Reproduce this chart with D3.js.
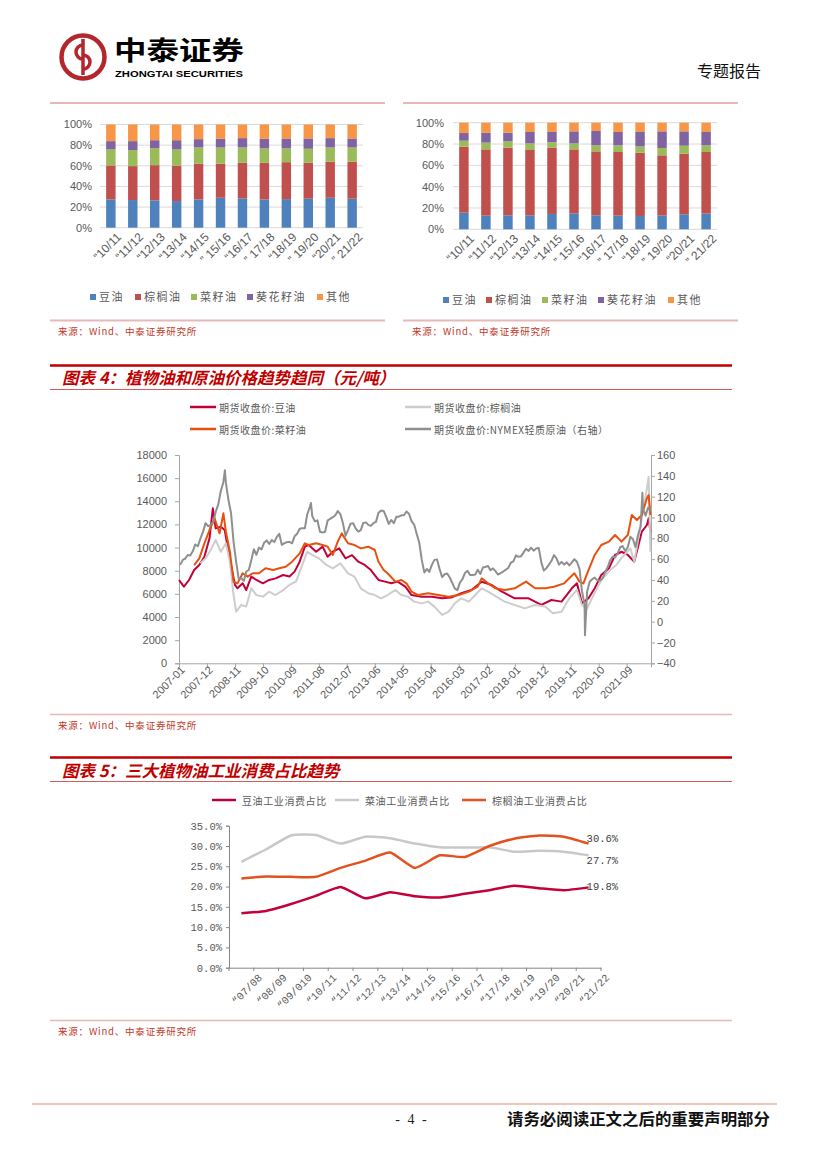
<!DOCTYPE html>
<html><head><meta charset="utf-8">
<script src="https://cdn.jsdelivr.net/npm/d3@7"></script>
<style>body{margin:0;background:#fff}svg{display:block}</style>
</head><body>
<svg id="page" width="827" height="1169"></svg>
<script>
// ---------------- DATA ----------------
const topCats = ["“10/11","“11/12","“12/13","“13/14","“14/15","” 15/16","“16/17","” 17/18","“18/19","” 19/20","“20/21","” 21/22"];
const oilKinds = ["豆油","棕榈油","菜籽油","葵花籽油","其他"];
const pctTicks = [0,20,40,60,80,100];
// left stacked chart (share %, bottom to top)
const leftSoy   = [27.4,26.8,26.5,25.8,27.4,29.0,28.4,27.4,27.7,28.1,29.0,28.1];
const leftPalm  = [32.9,32.9,34.1,34.2,34.5,32.9,34.5,35.5,35.8,34.8,34.9,35.8];
const leftRape  = [15.5,15.5,16.5,15.8,15.8,15.8,14.8,13.9,13.3,13.6,13.8,13.8];
const leftSun   = [8.1,8.7,7.7,9.0,8.1,8.4,9.1,9.3,9.7,10.0,9.1,8.8];
const leftOther = [16.1,16.1,15.2,15.2,14.2,13.9,13.2,13.9,13.5,13.5,13.2,13.5];
// right stacked chart
const rightSoy   = [15.6,12.8,13.1,13.1,14.4,15.0,13.1,12.8,12.5,13.1,14.1,14.7];
const rightPalm  = [61.9,62.2,63.5,61.3,62.2,60.0,60.0,59.7,59.4,56.3,56.8,57.8];
const rightRape  = [5.6,6.3,5.9,6.2,5.0,5.6,5.7,6.3,5.9,6.9,7.5,6.3];
const rightSun   = [7.2,9.3,8.1,10.7,9.7,11.3,13.4,12.5,13.5,15.6,13.5,12.5];
const rightOther = [9.7,9.4,9.4,8.7,8.7,8.1,7.8,8.7,8.7,8.1,8.1,8.7];

// chart 4: futures prices (yuan/ton) and NYMEX crude (USD, right axis)
const soyFut = [["2007-01-01",7200],["2007-03-01",6620],["2007-05-01",7200],["2007-07-01",8060],["2007-09-01",8490],["2007-11-01",9210],["2008-01-01",10800],["2008-02-10",13390],["2008-03-15",11660],["2008-05-15",11800],["2008-07-01",11520],["2008-08-01",10220],["2008-09-15",8490],["2008-11-01",6770],["2008-12-01",6480],["2009-02-01",6910],["2009-03-15",6330],["2009-05-15",7490],["2009-07-15",7200],["2009-10-01",6910],["2009-12-15",7200],["2010-03-01",7340],["2010-06-01",7630],["2010-08-15",7500],["2010-10-15",7920],["2010-12-15",8780],["2011-02-15",10080],["2011-04-01",10220],["2011-07-01",9640],["2011-09-15",10080],["2011-11-15",9210],["2012-01-15",9640],["2012-04-01",9930],["2012-06-15",9070],["2012-09-01",9350],["2012-11-15",8780],["2013-02-01",8500],["2013-04-15",8060],["2013-07-15",7200],["2013-10-01",7060],["2013-12-15",6910],["2014-03-01",7060],["2014-06-01",6620],["2014-08-15",5900],["2014-12-15",5760],["2015-04-15",5760],["2015-08-15",5615],["2015-12-01",5680],["2016-04-01",6050],["2016-08-01",6330],["2016-12-01",7050],["2017-04-01",6770],["2017-07-15",6250],["2018-01-01",5615],["2018-06-15",5615],["2018-11-15",5040],["2019-03-15",5470],["2019-07-15",5330],["2019-11-15",6480],["2020-01-15",6910],["2020-03-15",5180],["2020-06-01",5615],["2020-08-15",6480],["2020-11-01",7630],["2021-02-01",8210],["2021-04-15",9360],["2021-07-01",9640],["2021-09-15",9360],["2021-12-01",8780],["2022-03-01",11370],["2022-05-01",11950],["2022-05-22",12530],["2022-06-12",11370]];
const palmFut = [["2007-09-15",8640],["2007-11-15",9070],["2008-01-15",9790],["2008-03-15",10650],["2008-05-15",9640],["2008-07-15",10370],["2008-09-01",8780],["2008-10-15",5900],["2008-11-15",4460],["2009-01-15",5040],["2009-03-15",4900],["2009-05-15",6480],["2009-07-15",5900],["2009-10-01",5760],["2009-12-15",6190],["2010-03-01",5900],["2010-06-01",6330],["2010-08-15",6770],["2010-11-01",7060],["2011-01-15",8500],["2011-03-15",9640],["2011-05-15",9360],["2011-08-01",9070],["2011-11-01",8500],["2012-01-15",8210],["2012-04-15",8640],["2012-07-15",7780],["2012-10-01",7490],["2012-12-15",6480],["2013-03-15",6050],["2013-06-01",5900],["2013-08-15",5615],["2013-11-01",5900],["2014-02-01",6330],["2014-04-15",5900],["2014-07-01",5760],["2014-09-15",5330],["2014-12-15",5180],["2015-03-01",5330],["2015-05-15",4900],["2015-08-15",4180],["2015-11-01",4460],["2016-01-15",5180],["2016-04-01",5615],["2016-07-01",5330],["2016-09-15",5900],["2016-12-01",6480],["2017-02-15",6190],["2017-05-15",5800],["2017-09-01",5330],["2018-01-01",5040],["2018-05-01",4750],["2018-09-01",5040],["2019-01-01",4900],["2019-04-01",4320],["2019-07-15",4460],["2019-10-15",5615],["2020-01-15",6330],["2020-03-15",5040],["2020-05-15",4750],["2020-08-01",5900],["2020-11-01",7200],["2021-02-15",8060],["2021-05-01",8500],["2021-07-15",9210],["2021-10-15",9930],["2021-12-01",8780],["2022-03-01",12530],["2022-05-01",15120],["2022-05-22",16130],["2022-06-12",9640]];
const rapeFut = [["2007-07-01",8490],["2007-09-01",9070],["2007-11-01",10370],["2008-01-01",11520],["2008-03-01",12530],["2008-05-01",11230],["2008-06-15",12960],["2008-07-15",11370],["2008-09-01",9640],["2008-10-15",7050],["2008-12-01",6910],["2009-02-01",7780],["2009-04-01",7490],["2009-06-01",7780],["2009-08-15",7780],["2009-11-01",8210],["2010-02-01",8060],["2010-04-15",8210],["2010-07-01",8350],["2010-09-15",8780],["2010-12-15",9500],["2011-02-15",10370],["2011-04-01",10220],["2011-07-01",10370],["2011-09-15",10220],["2011-11-15",10080],["2012-01-15",9360],["2012-03-15",10510],["2012-05-01",11230],["2012-07-15",10370],["2012-10-01",10220],["2012-12-15",9930],["2013-03-15",10080],["2013-06-01",9790],["2013-07-15",8780],["2013-09-15",8060],["2013-11-01",7780],["2014-02-01",7060],["2014-04-15",7200],["2014-06-15",6910],["2014-08-15",6190],["2014-11-01",5900],["2015-03-01",6050],["2015-07-01",5900],["2015-11-01",5760],["2016-03-01",5900],["2016-07-01",6190],["2016-10-15",6620],["2016-12-01",7340],["2017-02-15",6910],["2017-05-15",6480],["2017-09-01",6330],["2018-01-01",6480],["2018-05-15",7060],["2018-09-01",6480],["2019-01-01",6480],["2019-04-15",6620],["2019-08-15",6910],["2019-12-15",7780],["2020-02-15",7060],["2020-04-01",6910],["2020-06-01",8060],["2020-08-15",9360],["2020-11-01",10220],["2021-02-01",10510],["2021-04-15",11090],["2021-07-01",10510],["2021-09-15",11090],["2021-11-01",12810],["2022-01-01",12380],["2022-03-01",12810],["2022-05-01",14260],["2022-05-22",14540],["2022-06-12",12810]];
const oilStartMonth = "2007-01";
const oilMonthly = [
 54.5,59.3,60.4,63.9,63.5,67.5,74.1,72.4,79.9,86.2,94.6,91.7,
 93.0,95.4,105.5,112.6,125.4,133.9,133.4,116.7,104.1,76.6,57.3,41.1,
 41.7,39.1,47.9,49.6,59.0,69.6,64.2,71.1,69.4,75.7,78.0,74.5,
 78.3,76.4,81.2,84.3,73.7,75.3,76.3,76.6,75.2,81.9,84.3,89.2,
 89.6,89.6,102.9,110.0,101.3,96.3,97.3,86.3,85.5,86.3,97.2,98.6,
 100.3,102.2,106.2,103.3,94.7,82.3,87.9,94.1,94.5,89.5,86.5,87.9,
 94.8,95.3,92.9,92.0,94.5,95.8,104.6,106.6,106.3,100.5,93.9,97.6,
 94.6,100.8,100.8,102.1,102.2,105.8,103.6,96.5,93.2,84.4,75.8,59.3,
 47.2,50.6,47.8,54.5,59.3,59.8,50.9,42.9,45.5,46.2,42.4,37.2,
 31.7,30.3,37.5,40.8,46.7,48.8,44.7,44.7,45.2,49.8,45.7,52.0,
 52.5,53.5,49.3,51.1,48.5,45.2,46.6,48.0,49.8,51.6,56.6,57.9,
 63.7,62.2,62.7,66.3,70.0,67.9,71.0,68.1,70.2,70.8,56.7,49.0,
 51.4,55.0,58.2,63.9,60.8,54.7,57.4,54.8,57.0,54.0,57.0,59.9,
 57.5,50.5,29.2,16.6,28.6,38.3,40.7,42.3,39.6,39.4,41.4,47.0,
 52.0,59.0,62.3,61.7,65.2,71.4,72.5,67.7,71.6,81.5,79.2,71.7,
 83.2,91.6,108.5,101.8,109.6,106.0];
const oilExtremes = [["2008-07-03",145.3],["2011-04-29",113.9],["2020-04-20",-13],["2022-03-08",123.7]];
const leftTicks4 = [0,2000,4000,6000,8000,10000,12000,14000,16000,18000];
const rightTicks4 = [-40,-20,0,20,40,60,80,100,120,140,160];
const xTickLabels4 = ["2007-01","2007-12","2008-11","2009-10","2010-09","2011-08","2012-07","2013-06","2014-05","2015-04","2016-03","2017-02","2018-01","2018-12","2019-11","2020-10","2021-09"];

// chart 5: industrial consumption share (%)
const cats5 = ["“07/08","“08/09","“09/010","“10/11","“11/12","“12/13","“13/14","“14/15","“15/16","“16/17","“17/18","“18/19","“19/20","“20/21","“21/22"];
const indSoy  = [13.4,14.0,15.7,17.7,19.9,17.1,18.6,17.6,17.3,18.2,19.1,20.2,19.6,19.1,19.8];
const indRape = [26.1,29.2,32.6,32.7,30.6,32.3,31.9,30.6,29.7,29.6,29.7,28.6,28.8,28.6,27.7];
const indPalm = [22.0,22.5,22.4,22.4,24.6,26.4,28.4,24.6,27.7,27.3,30.0,31.8,32.6,32.3,30.6];
const ticks5 = [0,5,10,15,20,25,30,35];

// ---------------- DRAW ----------------
const CJK = "'Noto Sans CJK SC', sans-serif";
const ARIAL = "'Liberation Sans', Arial, sans-serif";
const MONO = "'Liberation Mono', monospace";
const svg = d3.select("#page");
svg.append("rect").attr("width",827).attr("height",1169).attr("fill","#fff");

function hline(x1,x2,y,color,w){
  svg.append("line").attr("x1",x1).attr("x2",x2).attr("y1",y).attr("y2",y)
    .attr("stroke",color).attr("stroke-width",w);
}
function txt(x,y,s,o){
  o=o||{};
  const t=svg.append("text").attr("x",x).attr("y",y).text(s)
    .attr("font-family",o.font||CJK).attr("font-size",o.size||10)
    .attr("fill",o.fill||"#000").attr("text-anchor",o.anchor||"start");
  if(o.weight) t.attr("font-weight",o.weight);
  if(o.style) t.attr("font-style",o.style);
  if(o.ls) t.attr("letter-spacing",o.ls);
  if(o.len) t.attr("textLength",o.len).attr("lengthAdjust","spacingAndGlyphs");
  if(o.db) t.attr("dominant-baseline",o.db);
  return t;
}
// rotated label whose top-right corner sits at (x,y)
function rotLabel(g,x,y,s,size,font,fill){
  const a=0.707*0.72*size;
  g.append("text").attr("transform",`translate(${x+a},${y+a}) rotate(-45)`)
    .attr("text-anchor","end").attr("font-family",font).attr("font-size",size)
    .attr("fill",fill).text(s);
}

// ---- header ----
const logo=svg.append("g");
logo.append("circle").attr("cx",83).attr("cy",57).attr("r",21.5).attr("fill","none").attr("stroke","#b3262c").attr("stroke-width",4.5);
logo.append("line").attr("x1",83).attr("x2",83).attr("y1",39).attr("y2",75).attr("stroke","#b3262c").attr("stroke-width",3.5);
logo.append("path").attr("d","M83 45 A7 7 0 1 0 83 59 M83 55 A7 7 0 1 1 83 69").attr("fill","none").attr("stroke","#b3262c").attr("stroke-width",3.5);
txt(114,59.5,"中泰证券",{size:26,weight:700,len:130});
txt(115,77,"ZHONGTAI SECURITIES",{font:ARIAL,size:9.5,weight:700,len:128});
txt(697,77,"专题报告",{size:16,fill:"#111"});
hline(50,385,103,"#e6b9b8",2);
hline(403,738,103,"#e6b9b8",2);

// ---- stacked charts ----
const barColors=["#4f81bd","#c0504d","#9bbb59","#8064a2","#f79646"];
function stacked(cfg){
  const rows=topCats.map((c,i)=>{const r={cat:c};cfg.series.forEach((s,k)=>r[oilKinds[k]]=s[i]);return r;});
  const st=d3.stack().keys(oilKinds)(rows);
  const x=d3.scaleBand().domain(topCats).range([cfg.x0,cfg.x1]).paddingInner(0.57).paddingOuter(0.28);
  const y=d3.scaleLinear().domain([0,100]).range([cfg.yb,cfg.yt]);
  const g=svg.append("g");
  pctTicks.forEach(t=>{
    g.append("line").attr("x1",cfg.x0).attr("x2",cfg.x1).attr("y1",y(t)).attr("y2",y(t)).attr("stroke","#d9d9d9").attr("stroke-width",1);
    g.append("text").attr("x",cfg.lx).attr("y",y(t)).attr("dy","0.35em").attr("text-anchor","end")
      .attr("font-family",ARIAL).attr("font-size",11).attr("fill","#595959").text(t+"%");
  });
  st.forEach((layer,k)=>{
    g.selectAll(null).data(layer).enter().append("rect")
      .attr("x",d=>x(d.data.cat)).attr("width",x.bandwidth())
      .attr("y",d=>y(d[1])).attr("height",d=>y(d[0])-y(d[1])).attr("fill",barColors[k]);
  });
  topCats.forEach(c=>rotLabel(g,x(c)+x.bandwidth()/2+5,cfg.yb+4,c,12,ARIAL,"#595959"));
  oilKinds.forEach((k,i)=>{
    g.append("rect").attr("x",cfg.leg[i]).attr("y",cfg.legY-3).attr("width",6).attr("height",6).attr("fill",barColors[i]);
    g.append("text").attr("x",cfg.leg[i]+9).attr("y",cfg.legY).attr("dy","0.35em").attr("font-family",CJK)
      .attr("font-size",11).attr("letter-spacing",1.5).attr("fill","#595959").text(k);
  });
}
stacked({series:[leftSoy,leftPalm,leftRape,leftSun,leftOther],x0:100,x1:363,yt:124.5,yb:227.7,lx:92,leg:[90,135,191,247,317],legY:297});
stacked({series:[rightSoy,rightPalm,rightRape,rightSun,rightOther],x0:453,x1:717,yt:122.7,yb:229.3,lx:444,leg:[443,486,542,598,668],legY:300});
hline(50,385,320.5,"#e6b9b8",2);
hline(403,738,320.5,"#e6b9b8",2);
const srcTxt="来源：Wind、中泰证券研究所";
txt(58,335,srcTxt,{size:9.5,fill:"#c0392b",ls:0.8});
txt(412,335,srcTxt,{size:9.5,fill:"#c0392b",ls:0.8});

// ---- chart 4 ----
hline(50,732,365.5,"#c00000",2.5);
txt(62,384,"图表 4：植物油和原油价格趋势趋同（元/吨）",{size:16.5,weight:700,style:"italic",fill:"#c00000"});
hline(50,732,389.5,"#d65c5c",1);
const c4={soy:"#c4003a",palm:"#cdcdcd",rape:"#e8500f",oil:"#8f8f8f"};
const leg4=[[190,407,"期货收盘价:豆油",c4.soy],[405,407,"期货收盘价:棕榈油",c4.palm],[190,429,"期货收盘价:菜籽油",c4.rape],[405,429,"期货收盘价:NYMEX轻质原油（右轴）",c4.oil]];
leg4.forEach(l=>{
  hline(l[0],l[0]+26,l[1],l[3],2.5);
  txt(l[0]+29,l[1],l[2],{size:10,fill:"#595959",db:"central",ls:0.5});
});
const pd=d3.timeParse("%Y-%m-%d"), pm=d3.timeParse("%Y-%m");
const x4=d3.scaleTime().domain([new Date(2007,0,1),new Date(2022,5,19)]).range([179,651]);
const yL=d3.scaleLinear().domain([0,18000]).range([663.3,455]);
const yR=d3.scaleLinear().domain([-40,160]).range([663.3,455]);
const g4=svg.append("g");
const axisCol="#a6a6a6";
g4.append("g").attr("transform","translate(179,0)").call(d3.axisLeft(yL).tickValues(leftTicks4).tickSize(4).tickFormat(d3.format("d")))
  .call(a=>{a.select(".domain").attr("stroke",axisCol);a.selectAll("line").attr("stroke",axisCol);
    a.selectAll("text").attr("font-family",ARIAL).attr("font-size",11).attr("fill","#595959").attr("x",-12);});
g4.append("g").attr("transform","translate(651,0)").call(d3.axisRight(yR).tickValues(rightTicks4).tickSize(4).tickFormat(d3.format("d")))
  .call(a=>{a.select(".domain").attr("stroke",axisCol);a.selectAll("line").attr("stroke",axisCol);
    a.selectAll("text").attr("font-family",ARIAL).attr("font-size",11).attr("fill","#595959").attr("x",6);});
const xt4=xTickLabels4.map(pm);
g4.append("g").attr("transform","translate(0,663.3)").call(d3.axisBottom(x4).tickValues(xt4).tickSize(4).tickFormat(()=>""))
  .call(a=>{a.select(".domain").attr("stroke",axisCol);a.selectAll("line").attr("stroke",axisCol);});
xt4.forEach((d,i)=>rotLabel(g4,x4(d)+1,665,xTickLabels4[i],11,ARIAL,"#595959"));
const oilData=oilMonthly.map((v,i)=>{const d=pm(oilStartMonth);return [new Date(d.getFullYear(),d.getMonth()+i,15),v];})
  .concat(oilExtremes.map(p=>[pd(p[0]),p[1]])).sort((a,b)=>a[0]-b[0]);
const lineL=d3.line().x(d=>x4(pd(d[0]))).y(d=>yL(d[1]));
const lineR=d3.line().x(d=>x4(d[0])).y(d=>yR(d[1]));
const clip4=g4.append("g");
clip4.append("path").attr("d",lineL(soyFut)).attr("fill","none").attr("stroke",c4.soy).attr("stroke-width",2).attr("stroke-linejoin","round");
clip4.append("path").attr("d",lineL(palmFut)).attr("fill","none").attr("stroke",c4.palm).attr("stroke-width",2).attr("stroke-linejoin","round");
clip4.append("path").attr("d",lineL(rapeFut)).attr("fill","none").attr("stroke",c4.rape).attr("stroke-width",2).attr("stroke-linejoin","round");
clip4.append("path").attr("d",lineR(oilData)).attr("fill","none").attr("stroke",c4.oil).attr("stroke-width",2).attr("stroke-linejoin","round");
hline(50,732,714.5,"#e6b9b8",1.5);
txt(58,729,srcTxt,{size:9.5,fill:"#c0392b",ls:0.8});

// ---- chart 5 ----
hline(50,732,757.5,"#c00000",2.5);
txt(62,777,"图表 5：三大植物油工业消费占比趋势",{size:16.5,weight:700,style:"italic",fill:"#c00000"});
hline(50,732,781.5,"#d65c5c",1);
const c5={soy:"#c4003a",rape:"#c8c8c8",palm:"#e0531e"};
const leg5=[[212,"豆油工业消费占比",c5.soy],[335,"菜油工业消费占比",c5.rape],[462,"棕榈油工业消费占比",c5.palm]];
leg5.forEach(l=>{hline(l[0],l[0]+24,800,l[2],2.5);txt(l[0]+30,800,l[1],{size:10,fill:"#595959",db:"central",ls:0.6});});
const x5=d3.scaleBand().domain(cats5).range([229,601]);
const y5=d3.scaleLinear().domain([0,35]).range([967.7,825.7]);
const g5=svg.append("g");
const ax5="#868686";
g5.append("g").attr("transform","translate(229,0)").call(d3.axisLeft(y5).tickValues(ticks5).tickSize(3).tickFormat(d=>d3.format(".1f")(d)+"%"))
  .call(a=>{a.select(".domain").attr("stroke",ax5);a.selectAll("line").attr("stroke",ax5);
    a.selectAll("text").attr("font-family",MONO).attr("font-size",10.5).attr("fill","#595959").attr("x",-7);});
g5.append("g").attr("transform","translate(0,967.7)").call(d3.axisBottom(x5).tickSize(0).tickFormat(()=>""))
  .call(a=>{a.select(".domain").attr("stroke",ax5);});
cats5.concat([null]).forEach((c,i)=>{const xx=229+i*x5.step();
  g5.append("line").attr("x1",xx).attr("x2",xx).attr("y1",967.7).attr("y2",971).attr("stroke",ax5);});
cats5.forEach(c=>rotLabel(g5,x5(c)+x5.bandwidth()/2+16,973,c,10.5,MONO,"#595959"));
const line5=d3.line().x((d,i)=>x5(cats5[i])+x5.bandwidth()/2).y(d=>y5(d)).curve(d3.curveCardinal.tension(0.5));
[[indRape,c5.rape],[indPalm,c5.palm],[indSoy,c5.soy]].forEach(s=>{
  g5.append("path").attr("d",line5(s[0])).attr("fill","none").attr("stroke",s[1]).attr("stroke-width",2.5);
});
const lastX=x5(cats5[cats5.length-1])+x5.bandwidth()/2-2;
[[indPalm,-5],[indRape,6],[indSoy,0]].forEach(s=>{
  const v=s[0][s[0].length-1];
  txt(lastX,y5(v)+s[1],d3.format(".1f")(v)+"%",{font:MONO,size:10.5,fill:"#404040",db:"central"});
});
hline(50,732,1020.5,"#e6b9b8",1.5);
txt(58,1035,srcTxt,{size:9.5,fill:"#c0392b",ls:0.8});

// ---- footer ----
hline(32,777,1104,"#e9c9b5",2);
txt(412,1124,"- 4 -",{font:"'Liberation Serif', serif",size:14,anchor:"middle",fill:"#222",ls:2});
txt(507,1125,"请务必阅读正文之后的重要声明部分",{size:16,weight:700,fill:"#111",len:263});
</script>
</body></html>
